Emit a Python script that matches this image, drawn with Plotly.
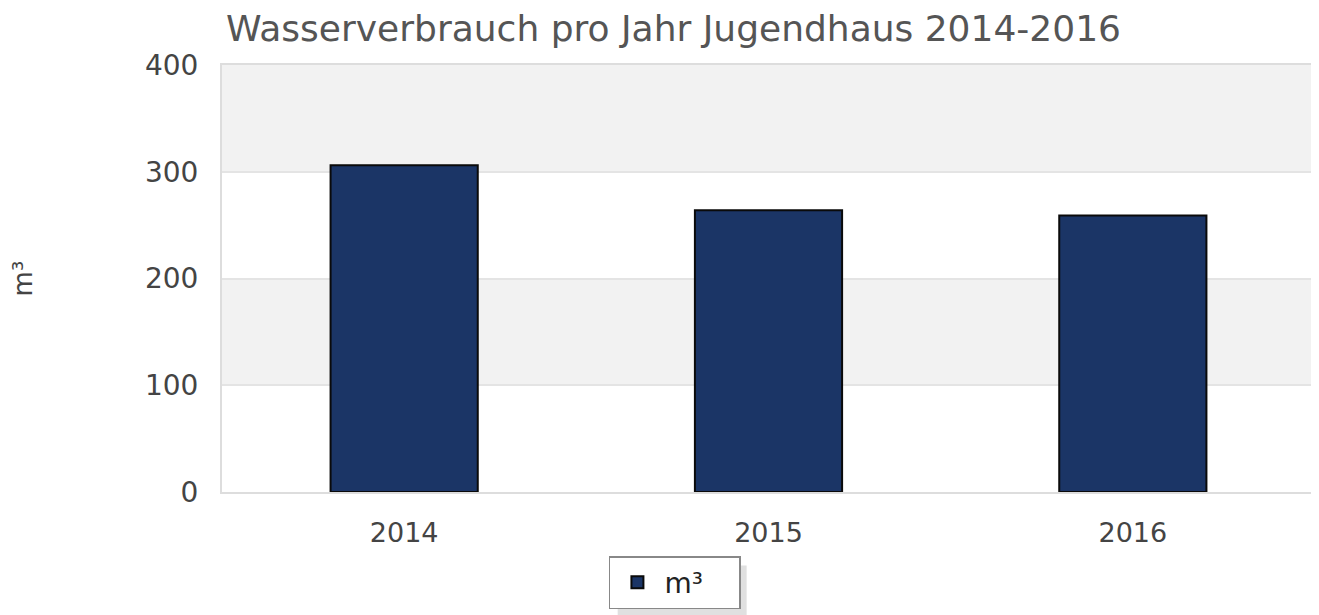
import plotly.graph_objects as go

years = ["2014", "2015", "2016"]
consumption = [306, 264, 259]
y_ticks = [0, 100, 200, 300, 400]

FONT = "DejaVu Sans"
TEXT = "#444444"

# the page body adds an 8px margin, so the figure is a bit smaller than the window
W, H = 1311, 607

fig = go.Figure()

fig.add_trace(go.Bar(
    name="m³",
    x=years,
    y=consumption,
    marker=dict(color="#1b3566", line=dict(color="#0a0a0a", width=2)),
))

# alternating background bands
for lo, hi in [(100, 200), (300, 400)]:
    fig.add_shape(type="rect", xref="paper", yref="y", x0=0, x1=1, y0=lo, y1=hi,
                  fillcolor="#f2f2f2", line_width=0, layer="below")

# legend shadow
fig.add_shape(type="rect", xref="paper", yref="paper",
              x0=0.362, x1=0.480, y0=-0.290, y1=-0.172,
              fillcolor="#e0e0e0", line_width=0, layer="below")

fig.update_layout(
    width=W,
    height=H,
    margin=dict(l=214, r=2, t=57, b=123),
    paper_bgcolor="white",
    plot_bgcolor="white",
    font=dict(family=FONT, color=TEXT, size=27),
    title=dict(text="Wasserverbrauch pro Jahr Jugendhaus 2014-2016",
               x=218 / W, xanchor="left", xref="container",
               y=1 - 20 / H, yanchor="middle",
               font=dict(family=FONT, size=36, color="#555555")),
    bargap=0.596,
    showlegend=True,
    legend=dict(x=0.354, xanchor="left", y=-0.150, yanchor="top",
                orientation="h", entrywidth=70, itemwidth=44,
                bgcolor="white", bordercolor="#888888", borderwidth=1.5,
                font=dict(size=28, color="#222222")),
    xaxis=dict(
        showgrid=False, ticks="", tickfont=dict(size=27), ticklabelstandoff=16,
        showline=True, linecolor="#dddddd", linewidth=2, mirror=True,
    ),
    yaxis=dict(
        range=[0, 400], tickvals=y_ticks, tickfont=dict(size=28),
        showgrid=True, gridcolor="#e4e4e4", gridwidth=2,
        showline=True, linecolor="#dddddd", linewidth=2, mirror=True,
        zeroline=False, ticks="", ticklabelstandoff=16,
        title=dict(text="m³", standoff=110, font=dict(size=26)),
    ),
)

fig.write_html("out.html")
